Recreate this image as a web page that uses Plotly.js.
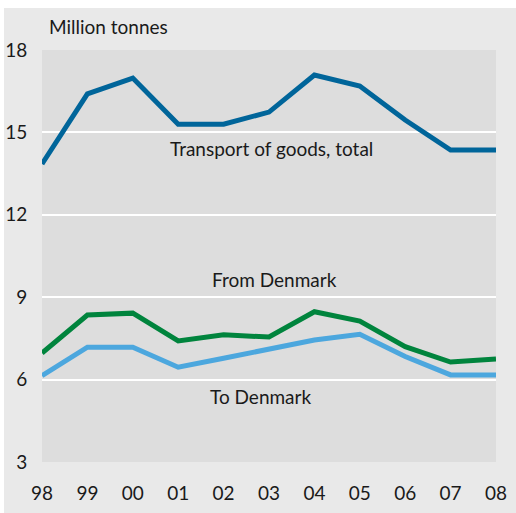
<!DOCTYPE html>
<html>
<head>
<meta charset="utf-8">
<script src="https://cdn.plot.ly/plotly-3.0.1.min.js"></script>
<style>
html,body{margin:0;padding:0;background:#ffffff;}
#chart{position:absolute;left:4px;top:8px;width:512px;height:505px;}
</style>
</head>
<body>
<div id="chart"></div>
<script>
const years = ['98','99','00','01','02','03','04','05','06','07','08'];
const total = [13.85, 16.4, 16.98, 15.3, 15.3, 15.74, 17.09, 16.69, 15.45, 14.36, 14.36];
const fromDenmark = [6.97, 8.35, 8.42, 7.41, 7.63, 7.55, 8.47, 8.13, 7.2, 6.64, 6.75];
const toDenmark = [6.14, 7.18, 7.18, 6.45, 6.78, 7.1, 7.44, 7.65, 6.84, 6.17, 6.17];
const yTicks = [3, 6, 9, 12, 15, 18];

const FONT = "Lato, 'DejaVu Sans Condensed', sans-serif";
const TXT = '#1a1a1a';

const traces = [
  {x: years, y: total, mode: 'lines', line: {color: '#00659a', width: 5}, name: 'Transport of goods, total', hoverinfo: 'skip'},
  {x: years, y: fromDenmark, mode: 'lines', line: {color: '#00843d', width: 5}, name: 'From Denmark', hoverinfo: 'skip'},
  {x: years, y: toDenmark, mode: 'lines', line: {color: '#4ca7de', width: 5}, name: 'To Denmark', hoverinfo: 'skip'}
];

const layout = {
  width: 512, height: 505,
  margin: {l: 38, r: 20, t: 42, b: 51},
  paper_bgcolor: '#e9e9e9',
  plot_bgcolor: '#dddddd',
  showlegend: false,
  font: {family: FONT, size: 19, color: TXT},
  xaxis: {
    type: 'category', categoryorder: 'array', categoryarray: years,
    range: [0, 10], showgrid: false, zeroline: false, showline: false,
    ticks: 'outside', ticklen: 14, tickcolor: 'rgba(0,0,0,0)',
    tickfont: {family: FONT, size: 19, color: TXT}, fixedrange: true
  },
  yaxis: {
    range: [3, 18], tickvals: yTicks, ticktext: yTicks.map(String),
    showgrid: true, gridcolor: '#ffffff', gridwidth: 2, zeroline: false, showline: false,
    ticks: 'outside', ticklen: 10, tickcolor: 'rgba(0,0,0,0)',
    tickfont: {family: FONT, size: 19, color: TXT}, fixedrange: true
  },
  annotations: [
    {text: 'Million tonnes', xref: 'paper', yref: 'paper', x: 0.012, y: 1.0, xanchor: 'left', yanchor: 'bottom', yshift: 10, showarrow: false, font: {family: FONT, size: 19, color: TXT}},
    {text: 'Transport of goods, total', xref: 'x', yref: 'y', x: 2.77, y: 14.4, xanchor: 'left', yanchor: 'middle', showarrow: false, font: {family: FONT, size: 19, color: TXT}},
    {text: 'From Denmark', xref: 'x', yref: 'y', x: 3.7, y: 9.66, xanchor: 'left', yanchor: 'middle', showarrow: false, font: {family: FONT, size: 19, color: TXT}},
    {text: 'To Denmark', xref: 'x', yref: 'y', x: 3.65, y: 5.39, xanchor: 'left', yanchor: 'middle', showarrow: false, font: {family: FONT, size: 19, color: TXT}}
  ]
};

Plotly.newPlot('chart', traces, layout, {staticPlot: true, displayModeBar: false});
</script>
</body>
</html>
